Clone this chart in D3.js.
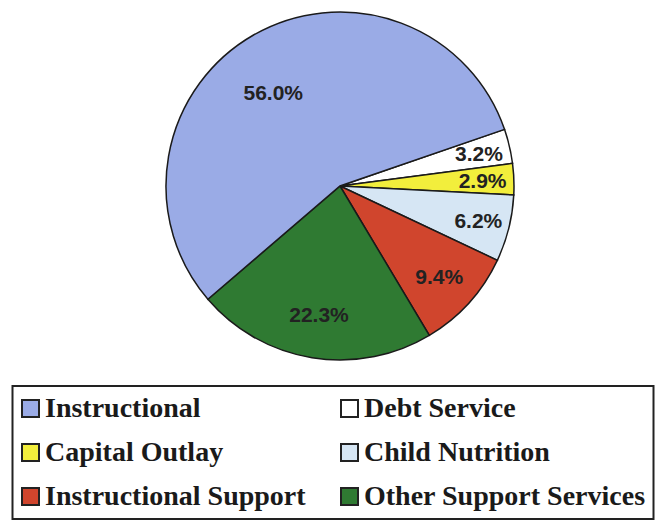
<!DOCTYPE html>
<html>
<head>
<meta charset="utf-8">
<script src="https://cdn.jsdelivr.net/npm/d3@7"></script>
<style>
  body { margin: 0; background: #fff; }
  svg { display: block; }
</style>
</head>
<body>
<svg id="chart"></svg>
<script>
// slice order as drawn, clockwise starting from Debt Service
const categories = ['Debt Service', 'Capital Outlay', 'Child Nutrition', 'Instructional Support', 'Other Support Services', 'Instructional'];
const shares = [3.2, 2.9, 6.2, 9.4, 22.3, 56.0];
const colors = ['#ffffff', '#f2ee3c', '#d6e6f4', '#d0452d', '#2f7a32', '#9aabe6'];
// legend reading order
const legendOrder = ['Instructional', 'Debt Service', 'Capital Outlay', 'Child Nutrition', 'Instructional Support', 'Other Support Services'];

const width = 660, height = 521;
const cx = 340, cy = 186, radius = 174;

const svg = d3.select('#chart')
  .attr('width', width)
  .attr('height', height);

const color = d3.scaleOrdinal().domain(categories).range(colors);

const start = 71 * Math.PI / 180;
const pie = d3.pie()
  .sort(null)
  .value(d => d.value)
  .startAngle(start)
  .endAngle(start + 2 * Math.PI);

const data = categories.map((c, i) => ({ name: c, value: shares[i] }));
const arcs = pie(data);

const arc = d3.arc().innerRadius(0).outerRadius(radius);

const g = svg.append('g').attr('transform', 'translate(' + cx + ',' + cy + ')');

g.selectAll('path')
  .data(arcs)
  .join('path')
  .attr('d', arc)
  .attr('fill', d => color(d.data.name))
  .attr('stroke', '#1a1a1a')
  .attr('stroke-width', 1.5);

// label distance depends on slice size
function labelRatio(v) {
  if (v > 50) return 0.66;
  if (v > 15) return 0.75;
  if (v > 8) return 0.77;
  return 0.82;
}

g.selectAll('text.lbl')
  .data(arcs)
  .join('text')
  .attr('class', 'lbl')
  .attr('transform', d => {
    const r = radius * labelRatio(d.data.value);
    let a = (d.startAngle + d.endAngle) / 2;
    if (d.data.value > 50) a -= 0.1; // big slice label sits a little left of its middle
    return 'translate(' + (Math.sin(a) * r) + ',' + (-Math.cos(a) * r) + ')';
  })
  .attr('text-anchor', 'middle')
  .attr('dy', '0.36em')
  .attr('font-family', '"Liberation Sans", Arial, sans-serif')
  .attr('font-weight', 'bold')
  .attr('font-size', '21px')
  .attr('fill', '#222')
  .text(d => d.data.value.toFixed(1) + '%');

// Legend
const legend = svg.append('g');
legend.append('rect')
  .attr('x', 12.5)
  .attr('y', 386)
  .attr('width', 641)
  .attr('height', 133)
  .attr('fill', 'none')
  .attr('stroke', '#222')
  .attr('stroke-width', 2);

const colX = d3.scaleOrdinal().domain([0, 1]).range([22, 341]);
const rowY = d3.scaleLinear().domain([0, 2]).range([417, 505]);

const items = legend.selectAll('g.item')
  .data(legendOrder)
  .join('g')
  .attr('class', 'item')
  .attr('transform', (d, i) => 'translate(' + colX(i % 2) + ',' + rowY(Math.floor(i / 2)) + ')');

items.append('rect')
  .attr('x', 0)
  .attr('y', -17)
  .attr('width', 17)
  .attr('height', 17)
  .attr('fill', d => color(d))
  .attr('stroke', '#222')
  .attr('stroke-width', 2);

items.append('text')
  .attr('x', 23)
  .attr('y', 0)
  .attr('font-family', '"Liberation Serif", "Times New Roman", serif')
  .attr('font-weight', 'bold')
  .attr('font-size', '28px')
  .attr('fill', '#1a1a1a')
  .text(d => d);
</script>
</body>
</html>
